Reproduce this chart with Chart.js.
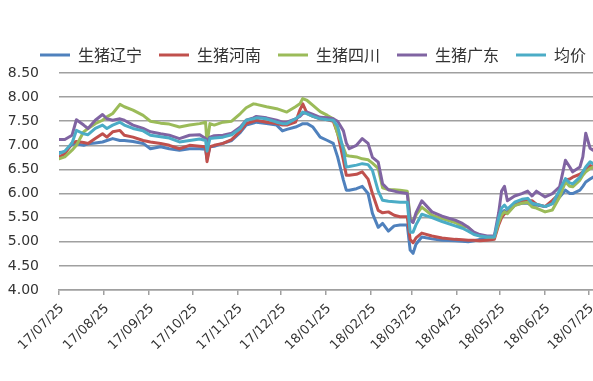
<!DOCTYPE html>
<html>
<head>
<meta charset="utf-8">
<script src="https://cdn.jsdelivr.net/npm/chart.js@4.4.1/dist/chart.umd.min.js"></script>
<style>
  html, body { margin: 0; padding: 0; background: #fff; }
  canvas { display: block; }
</style>
</head>
<body>
<canvas id="chart" width="593" height="381"></canvas>
<script>
// Observation dates (live hog prices, yuan/kg)
const dates = [
  '2017-07-25','2017-07-29','2017-08-03','2017-08-06','2017-08-11','2017-08-14','2017-08-19','2017-08-24','2017-08-27','2017-08-31',
  '2017-09-05','2017-09-08','2017-09-14','2017-09-21','2017-09-26','2017-10-03','2017-10-09','2017-10-16','2017-10-23','2017-10-30',
  '2017-11-03','2017-11-04','2017-11-06','2017-11-09','2017-11-15','2017-11-21','2017-11-27','2017-12-01','2017-12-06','2017-12-08',
  '2017-12-15','2017-12-22','2017-12-26','2017-12-29','2018-01-04','2018-01-07','2018-01-09','2018-01-12','2018-01-16','2018-01-21',
  '2018-01-26','2018-01-30','2018-02-02','2018-02-06','2018-02-08','2018-02-10','2018-02-15','2018-02-19','2018-02-23','2018-02-26',
  '2018-03-02','2018-03-05','2018-03-09','2018-03-13','2018-03-17','2018-03-22','2018-03-24','2018-03-26','2018-03-28','2018-04-01',
  '2018-04-08','2018-04-15','2018-04-24','2018-04-29','2018-05-03','2018-05-07','2018-05-11','2018-05-16','2018-05-21','2018-05-24',
  '2018-05-26','2018-05-28','2018-05-30','2018-06-04','2018-06-09','2018-06-13','2018-06-16','2018-06-19','2018-06-25','2018-06-30',
  '2018-07-05','2018-07-09','2018-07-12','2018-07-14','2018-07-19','2018-07-21','2018-07-23','2018-07-26','2018-07-28'
];

const liaoning = [
  6.85,6.86,7.02,7.03,7.00,7.03,7.05,7.07,7.10,7.14,
  7.10,7.10,7.08,7.04,6.93,6.97,6.93,6.90,6.93,6.93,
  6.92,6.72,6.97,6.98,7.04,7.10,7.27,7.42,7.46,7.48,
  7.45,7.42,7.30,7.33,7.38,7.42,7.45,7.45,7.38,7.17,
  7.10,7.04,6.76,6.28,6.07,6.07,6.10,6.15,6.00,5.59,
  5.30,5.38,5.22,5.33,5.35,5.35,4.83,4.76,4.95,5.10,
  5.06,5.03,5.02,5.01,5.00,5.02,5.05,5.08,5.10,5.45,
  5.60,5.65,5.60,5.76,5.80,5.80,5.75,5.76,5.73,5.79,
  5.93,6.07,6.00,6.00,6.07,6.15,6.24,6.30,6.34
];

const henan = [
  6.76,6.82,7.05,7.08,7.06,7.04,7.14,7.24,7.17,7.28,
  7.31,7.21,7.17,7.10,7.07,7.04,7.00,6.93,7.00,6.98,
  6.97,6.66,6.97,7.00,7.04,7.12,7.30,7.45,7.50,7.52,
  7.48,7.45,7.42,7.42,7.48,7.73,7.86,7.66,7.60,7.55,
  7.53,7.50,7.25,6.69,6.38,6.38,6.40,6.45,6.30,6.00,
  5.65,5.60,5.62,5.55,5.52,5.52,5.05,4.98,5.08,5.18,
  5.12,5.08,5.05,5.04,5.03,5.03,5.02,5.03,5.05,5.35,
  5.50,5.58,5.60,5.80,5.85,5.85,5.85,5.78,5.73,5.86,
  6.00,6.28,6.30,6.34,6.40,6.45,6.50,6.58,6.55
];

const sichuan = [
  6.72,6.76,6.90,7.00,7.28,7.35,7.45,7.52,7.59,7.66,
  7.85,7.80,7.73,7.62,7.50,7.46,7.44,7.38,7.42,7.45,
  7.48,7.03,7.45,7.42,7.48,7.50,7.66,7.78,7.86,7.85,
  7.80,7.76,7.72,7.69,7.80,7.86,7.97,7.93,7.83,7.70,
  7.62,7.55,7.24,6.95,6.79,6.78,6.76,6.72,6.70,6.63,
  6.52,6.12,6.08,6.08,6.07,6.05,5.50,5.42,5.55,5.72,
  5.55,5.48,5.40,5.32,5.30,5.18,5.12,5.10,5.10,5.40,
  5.55,5.62,5.58,5.75,5.80,5.82,5.72,5.70,5.62,5.66,
  5.93,6.24,6.15,6.14,6.28,6.38,6.45,6.52,6.55
];

const guangdong = [
  7.12,7.12,7.21,7.53,7.42,7.35,7.52,7.64,7.55,7.52,
  7.55,7.52,7.42,7.35,7.28,7.24,7.21,7.14,7.21,7.22,
  7.14,7.08,7.17,7.20,7.21,7.25,7.38,7.52,7.57,7.60,
  7.57,7.52,7.48,7.48,7.55,7.60,7.66,7.69,7.64,7.58,
  7.57,7.55,7.50,7.30,7.05,6.93,7.00,7.14,7.04,6.75,
  6.65,6.20,6.08,6.05,6.02,6.00,5.45,5.40,5.60,5.85,
  5.62,5.53,5.45,5.38,5.30,5.20,5.15,5.12,5.12,5.60,
  6.05,6.15,5.85,5.95,6.00,6.05,5.95,6.05,5.93,6.00,
  6.14,6.69,6.55,6.45,6.55,6.76,7.25,6.94,6.90
];

const average = [
  6.83,6.88,7.05,7.31,7.24,7.22,7.35,7.42,7.35,7.42,
  7.48,7.42,7.35,7.30,7.21,7.18,7.15,7.07,7.10,7.13,
  7.10,6.88,7.14,7.15,7.17,7.22,7.35,7.52,7.55,7.57,
  7.55,7.48,7.45,7.45,7.55,7.62,7.69,7.65,7.60,7.55,
  7.53,7.52,7.40,6.90,6.55,6.56,6.59,6.62,6.60,6.48,
  6.05,5.86,5.84,5.83,5.82,5.82,5.20,5.20,5.35,5.57,
  5.50,5.42,5.33,5.28,5.22,5.15,5.12,5.10,5.10,5.50,
  5.70,5.76,5.68,5.82,5.88,5.90,5.80,5.78,5.73,5.79,
  6.07,6.31,6.22,6.20,6.34,6.45,6.55,6.66,6.62
];

// Monthly tick positions on the time axis and their labels
const tickDates = [
  '2017-07-25','2017-08-25','2017-09-25','2017-10-25','2017-11-25','2017-12-25','2018-01-25',
  '2018-02-25','2018-03-25','2018-04-25','2018-05-25','2018-06-25','2018-07-25'
];
const tickLabels = [
  '17/07/25','17/08/25','17/09/25','17/10/25','17/11/25','17/12/25','18/01/25',
  '18/02/25','18/03/25','18/04/25','18/05/25','18/06/25','18/07/25'
];

const seriesNames = ['生猪辽宁', '生猪河南', '生猪四川', '生猪广东', '均价'];
const seriesValues = [liaoning, henan, sichuan, guangdong, average];
const seriesColors = ['#4F81BD', '#C0504D', '#9BBB59', '#8064A2', '#4BACC6'];

const DAY_MS = 86400000;
function toUTC(s) {
  const [y, m, d] = s.split('-').map(Number);
  return Date.UTC(y, m - 1, d);
}
const start = toUTC(dates[0]);
const dayOf = s => Math.round((toUTC(s) - start) / DAY_MS);
const xs = dates.map(dayOf);
const tickDays = tickDates.map(dayOf);

const datasets = seriesNames.map((name, i) => ({
  label: name,
  data: seriesValues[i].map((v, j) => ({ x: xs[j], y: v })),
  borderColor: seriesColors[i],
  backgroundColor: seriesColors[i],
  borderWidth: 3,
  pointRadius: 0,
  tension: 0,
  borderJoinStyle: 'round',
  borderCapStyle: 'round',
  order: seriesNames.length - i
}));

// Nudge the legend row to the right of the default start position
const legendShift = {
  id: 'legendShift',
  afterLayout(chart) {
    const lg = chart.legend;
    if (lg) { lg.left += 23; lg.right += 23; }
  }
};

const gridGray = '#a0a0a0';

new Chart(document.getElementById('chart'), {
  type: 'line',
  data: { datasets },
  plugins: [legendShift],
  options: {
    responsive: false,
    animation: false,
    events: [],
    layout: { padding: { left: 0, top: -7, right: 0, bottom: 0 } },
    plugins: {
      tooltip: { enabled: false },
      legend: {
        position: 'top',
        align: 'start',
        labels: {
          usePointStyle: true,
          pointStyle: 'line',
          pointStyleWidth: 30,
          padding: 17,
          color: '#333',
          font: { family: '"Noto Sans CJK SC", sans-serif', size: 16 },
          sort: (a, b) => a.datasetIndex - b.datasetIndex
        }
      }
    },
    scales: {
      x: {
        type: 'linear',
        min: 0,
        max: xs[xs.length - 1],
        afterBuildTicks: axis => { axis.ticks = tickDays.map(v => ({ value: v })); },
        afterFit: axis => { axis.height = 91; axis.paddingLeft = 0; axis.paddingRight = 0; },
        ticks: {
          autoSkip: false,
          minRotation: 45,
          maxRotation: 45,
          padding: 6,
          labelOffset: 3,
          color: '#333',
          font: { family: '"DejaVu Sans", Verdana, sans-serif', size: 13 },
          callback: (v, i) => tickLabels[i]
        },
        grid: { drawOnChartArea: false, drawTicks: true, tickLength: 5, color: gridGray, lineWidth: 1.5 },
        border: { display: true, color: gridGray, width: 1.5 }
      },
      y: {
        min: 4,
        max: 8.5,
        afterFit: axis => { axis.width = 59; axis.paddingTop = 73; },
        ticks: {
          stepSize: 0.5,
          padding: 20,
          color: '#333',
          font: { family: '"DejaVu Sans", Verdana, sans-serif', size: 14 },
          callback: v => Number(v).toFixed(2)
        },
        grid: { drawTicks: false, color: gridGray, lineWidth: 1.5 },
        border: { display: false }
      }
    }
  }
});
</script>
</body>
</html>
